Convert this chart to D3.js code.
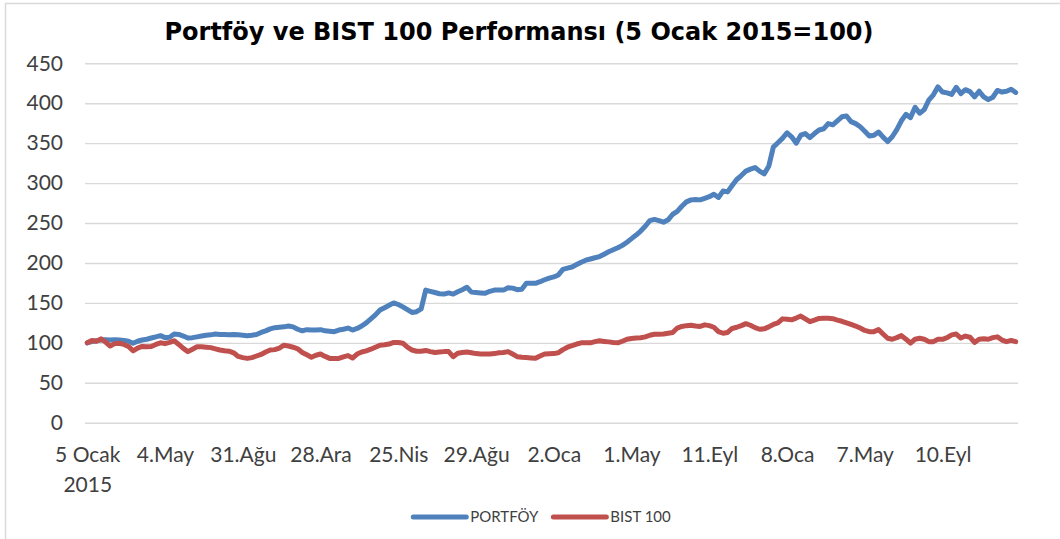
<!DOCTYPE html>
<html>
<head>
<meta charset="utf-8">
<script src="https://cdnjs.cloudflare.com/ajax/libs/d3/7.8.5/d3.min.js"></script>
<style>
  body { margin: 0; background: #fff; }
</style>
</head>
<body>
<div id="chart"></div>
<script>
// weekly series, 5 Ocak 2015 = 100
var seriesNames = ["PORTFÖY", "BIST 100"];
var seriesColors = ["#4f81bd", "#c0504d"];

var tickLabels = ["5 Ocak\n2015", "4.May", "31.Ağu", "28.Ara", "25.Nis", "29.Ağu",
                  "2.Oca", "1.May", "11.Eyl", "8.Oca", "7.May", "10.Eyl"];
var labelEvery = 17;
var yTicks = [0, 50, 100, 150, 200, 250, 300, 350, 400, 450];

var portfoy = [
  100, 101.5, 102.5, 103.5, 104, 103.5, 104, 103.5, 103, 102,
  99.5, 102, 103.5, 104.5, 106, 107.5, 109, 106.5, 107, 111,
  110.5, 108.5, 106, 106.5, 107.5, 108.5, 109.5, 110, 111, 110.5,
  110.5, 110, 110.5, 110, 109.5, 109, 109.5, 110.5, 113, 115,
  117.5, 119, 119.5, 120, 121, 120, 117, 115, 116.5, 116,
  116, 116.5, 115, 114.5, 114, 116, 117, 118.5, 116, 118,
  121, 125, 130, 135, 141, 144, 147, 150, 148, 145,
  141.5, 138, 139, 142.5, 166, 164.5, 163, 161.5, 161, 162.5,
  161, 164, 166.5, 169.5, 163.5, 163, 162.5, 162, 164.5, 166,
  166, 166, 169, 168.5, 166.5, 167, 174.5, 174.5, 174.5, 176.5,
  179, 181, 182.5, 185, 192, 193.5, 195, 198, 201, 203.5,
  205, 206.5, 208, 211, 214, 216.5, 219, 222, 226, 230.5,
  235, 240, 246, 253, 254.5, 253, 251, 254, 261, 264.5,
  271, 276.5, 279, 279.5, 279, 281, 283, 286, 282, 290,
  289, 297, 304.5, 309.5, 315, 317.5, 319.5, 315, 311.5, 321,
  345, 350.5, 356, 363, 358, 350, 360, 362, 357, 362,
  366.5, 368, 374.5, 373, 378, 383, 384, 377, 374.5, 370.5,
  365, 359, 360, 364, 357.5, 352, 358, 367, 378, 386,
  382, 395, 387.5, 392, 404, 410.5, 420.5, 414, 413, 411,
  420, 412, 417, 414.5, 408, 415, 408, 404.5, 407.5, 416,
  414, 415, 417.5, 413.5
];

var bist100 = [
  100, 103, 102, 105, 101, 96, 99, 99.5, 98, 95.5,
  90, 93.5, 95.5, 95, 95.5, 98, 100, 99, 100.5, 102.5,
  98, 93, 89, 92, 95, 95, 94.5, 94, 92.5, 91,
  90, 89.5, 87.5, 83, 81.5, 80.5, 81.5, 83.5, 85.5, 88.5,
  91, 91.5, 93.5, 97, 96, 94.5, 92.5, 88, 85, 82,
  84.5, 86, 83, 80.5, 80.5, 80.5, 82.5, 84, 81, 86,
  88.5, 90, 92, 94.5, 97, 97.5, 98.5, 100.5, 100.5, 99.5,
  94.5, 91, 89.5, 89.5, 90.5, 89, 88, 88.5, 89, 89,
  82.7, 87, 88, 88.5, 87.5, 86.5, 86, 86, 86, 86.5,
  87.5, 88, 89, 86, 82.7, 82, 81.5, 81, 80.6, 83.5,
  86, 86.3, 86.5, 87.5, 91.5, 94.5, 96.5, 98.5, 100, 100,
  100, 101.5, 102.5, 101.8, 101.2, 100.5, 100, 102, 104.4, 105.5,
  106, 106.3, 107.5, 109.5, 110.7, 110.8, 111, 112, 113, 118.5,
  120.5, 121.5, 122, 121, 120.5, 122.5, 121.5, 119.5, 114, 112,
  113, 118, 119.5, 121.5, 124, 122, 119, 117, 117.5, 120,
  123, 125, 130, 129.5, 128.8, 131, 133.5, 130, 126.5, 128.5,
  130.5, 130.7, 130.7, 130.3, 128.5, 127, 125, 123, 121, 118.5,
  115.5, 114, 114, 116.5, 111, 105.7, 104.5, 106.5, 109, 104.5,
  99.5, 104.5, 105.7, 104.5, 101.5, 101.5, 104.4, 104.4, 106.5, 110,
  111, 106, 108.5, 107, 100.5, 104.5, 105, 104.5, 106.5, 107.5,
  103.5, 101.5, 103, 101.5
];

var width = 1060;
var height = 539;
var plotLeft = 85, plotRight = 1018, plotTop = 63.3, plotBottom = 422.7;
var textColor = "#404040";

var svg = d3.select("#chart").append("svg")
    .attr("width", width)
    .attr("height", height);

// chart area frame
svg.append("rect")
    .attr("x", 5.5)
    .attr("y", 3.5)
    .attr("width", width + 10)
    .attr("height", height + 10)
    .attr("fill", "#fff")
    .attr("stroke", "#d9d9d9")
    .attr("stroke-width", 1.5);

svg.append("text")
    .attr("x", 519)
    .attr("y", 40)
    .attr("text-anchor", "middle")
    .attr("font-family", "DejaVu Sans")
    .attr("font-weight", "bold")
    .attr("font-size", 24)
    .attr("fill", "#000")
    .text("Portföy ve BIST 100 Performansı (5 Ocak 2015=100)");

var x = d3.scalePoint()
    .domain(d3.range(portfoy.length))
    .range([plotLeft, plotRight])
    .padding(0.5);

var y = d3.scaleLinear()
    .domain([0, 450])
    .range([plotBottom, plotTop]);

// y axis with gridlines
var yAxis = svg.append("g")
    .attr("transform", "translate(" + plotLeft + ",0)")
    .call(d3.axisLeft(y)
        .tickValues(yTicks)
        .tickSize(-(plotRight - plotLeft))
        .tickPadding(22))
    .attr("font-family", "Lato")
    .attr("font-size", 21);
yAxis.select(".domain").remove();
yAxis.selectAll("line").attr("stroke", "#d9d9d9").attr("stroke-width", 1.4);
yAxis.selectAll("text").attr("fill", textColor);

// x axis, a label every 17 weeks
var xAxis = svg.append("g")
    .attr("transform", "translate(0," + plotBottom + ")")
    .call(d3.axisBottom(x)
        .tickValues(d3.range(0, portfoy.length, labelEvery))
        .tickFormat(function(d, i) { return tickLabels[i]; })
        .tickSize(0)
        .tickPadding(24))
    .attr("font-family", "Lato")
    .attr("font-size", 21);
xAxis.select(".domain").remove();
xAxis.selectAll("text")
    .attr("fill", textColor)
    .each(function(d) {
        var t = d3.select(this);
        var parts = t.text().split("\n");
        if (parts.length < 2) return;
        t.text(null);
        parts.forEach(function(p, k) {
            t.append("tspan").attr("x", 0).attr("dy", k == 0 ? "0.71em" : "1.43em").text(p);
        });
        t.attr("dy", null);
    });

var line = d3.line()
    .x(function(d, i) { return x(i); })
    .y(function(d) { return y(d); });

[portfoy, bist100].forEach(function(values, k) {
    svg.append("path")
        .datum(values)
        .attr("d", line)
        .attr("fill", "none")
        .attr("stroke", seriesColors[k])
        .attr("stroke-width", 5)
        .attr("stroke-linejoin", "round")
        .attr("stroke-linecap", "round");
});

// legend
var legend = svg.append("g")
    .attr("font-family", "Lato")
    .attr("font-size", 15)
    .attr("fill", textColor);
var lx = 0;
seriesNames.forEach(function(name, k) {
    legend.append("line")
        .attr("x1", lx + 2).attr("x2", lx + 55)
        .attr("y1", 0).attr("y2", 0)
        .attr("stroke", seriesColors[k])
        .attr("stroke-width", 5)
        .attr("stroke-linecap", "round");
    var t = legend.append("text")
        .attr("x", lx + 59)
        .attr("y", 0)
        .attr("dy", "0.36em")
        .text(name);
    lx += 59 + t.node().getComputedTextLength() + 13;
});
lx -= 13;
legend.attr("transform", "translate(" + (541 - lx / 2) + ",517)");
</script>
</body>
</html>
